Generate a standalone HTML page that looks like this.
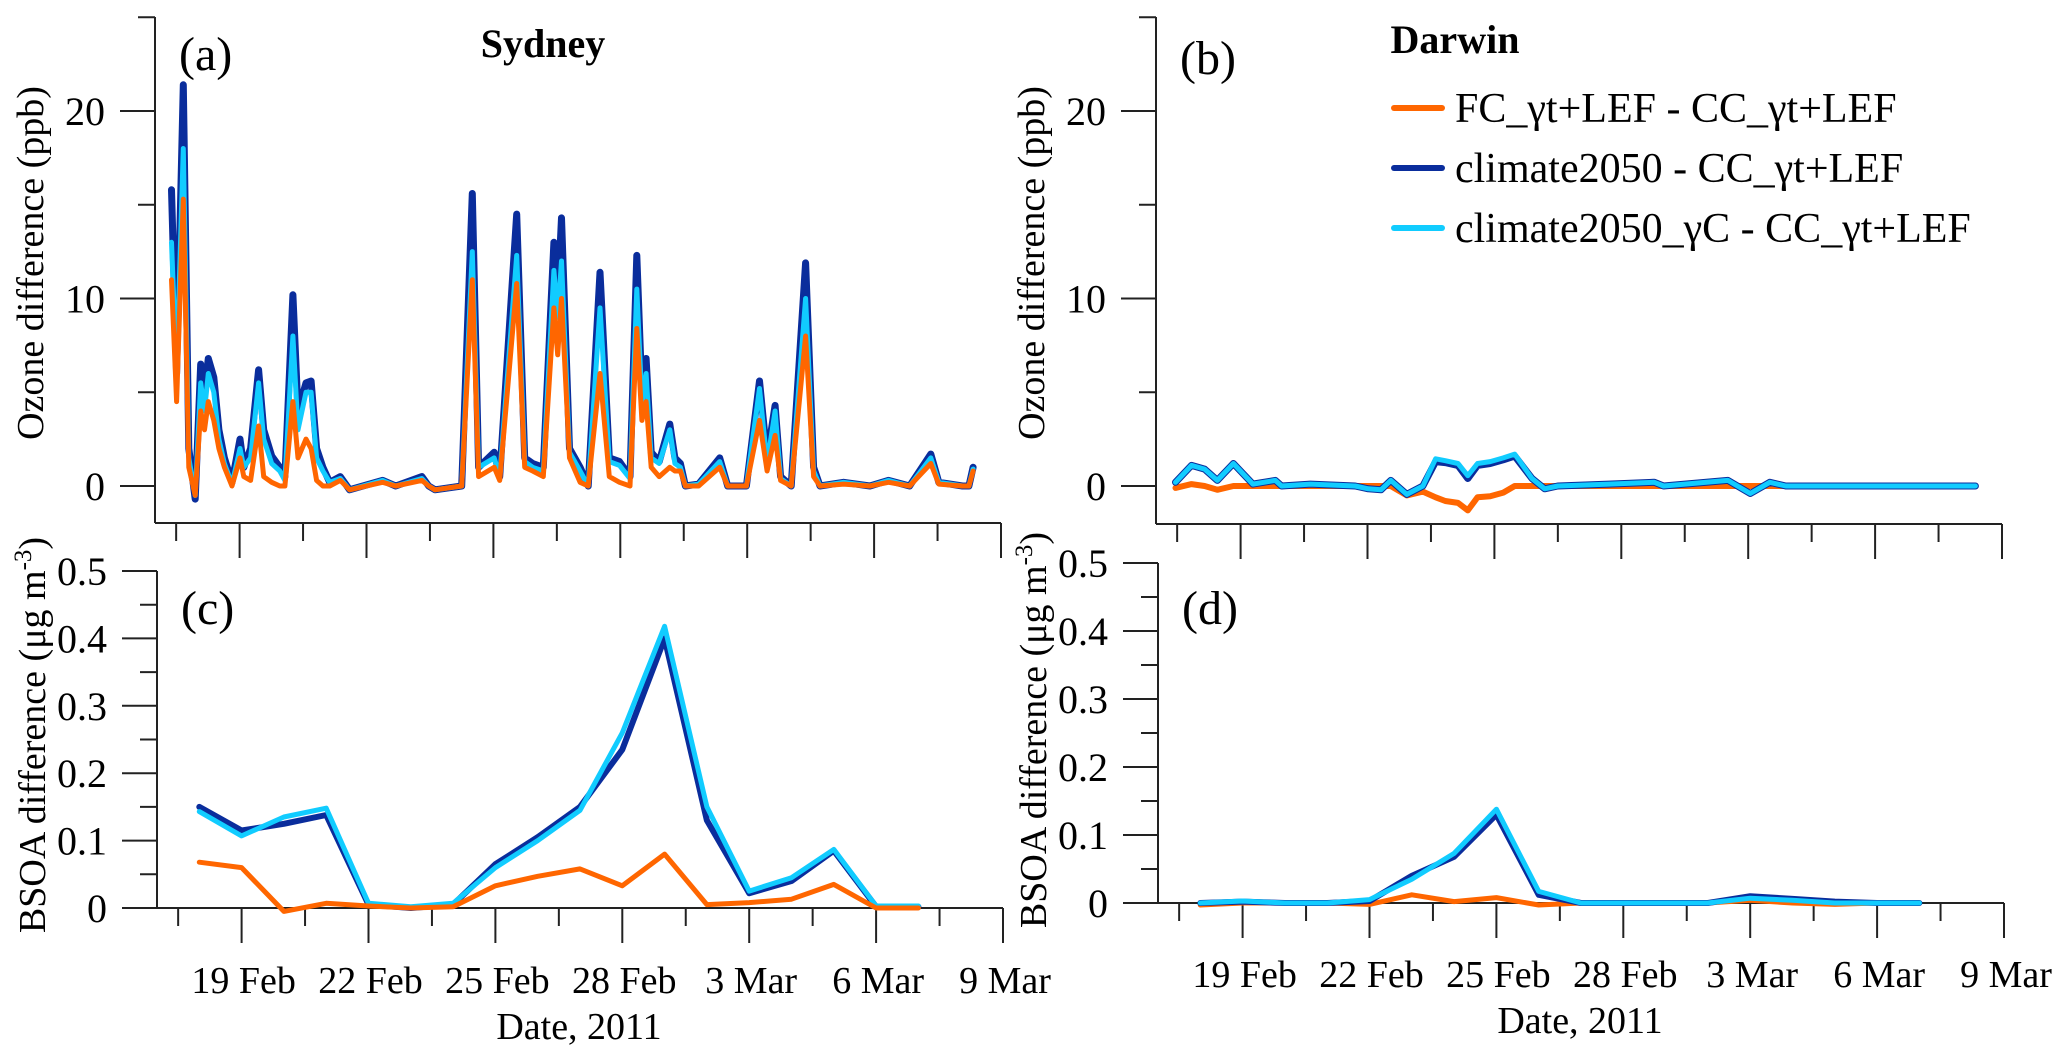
<!DOCTYPE html>
<html><head><meta charset="utf-8"><style>
html,body{margin:0;padding:0;background:#fff;}
svg{display:block;}
text{font-family:"Liberation Serif","Times New Roman",serif;}
</style></head><body>
<svg id="chart" width="2067" height="1059" viewBox="0 0 2067 1059" xmlns="http://www.w3.org/2000/svg"></svg>
<script>
// ---- Data ----
var dateTicks = ["19 Feb","22 Feb","25 Feb","28 Feb","3 Mar","6 Mar","9 Mar"];
var sydT = [0.39,0.51,0.67,0.80,0.95,1.08,1.17,1.26,1.39,1.51,1.64,1.82,2.01,2.10,2.26,2.45,2.57,2.76,2.95,3.07,3.26,3.38,3.57,3.69,3.82,3.97,4.13,4.38,4.60,5.38,5.69,6.31,6.47,6.62,7.25,7.50,7.65,8.02,8.15,8.55,8.74,8.93,9.18,9.43,9.52,9.61,9.80,10.05,10.24,10.52,10.74,10.98,11.23,11.39,11.51,11.61,11.73,11.92,12.17,12.29,12.42,12.54,12.85,13.35,13.54,13.98,14.29,14.47,14.66,14.79,15.04,15.38,15.57,15.72,16.28,16.90,17.34,17.84,18.34,18.53,19.09,19.24,19.34];
var sydDark = [15.8,6,21.4,2,-0.7,6.5,5,6.8,5.8,3,1.5,0.2,2.5,1,2,6.2,3,1.6,1,0.5,10.2,4,5.5,5.6,2,1,0.2,0.5,-0.2,0.3,0,0.5,0,-0.2,0,15.6,1,1.8,0.5,14.5,1.5,1.2,1,13,10,14.3,2,1,0,11.4,1.5,1.3,0.5,12.3,5,6.8,1.8,1.3,3.3,1.5,1.2,0,0.1,1.5,0,0,5.6,1.5,4.3,0.5,0,11.9,1,0,0.2,0,0.3,0,1.7,0.2,0,0,1];
var sydCyan = [13,6,18,1.5,-0.5,5.5,4,6,5,2.5,1.2,0.1,2,1,1.5,5.5,2.5,1.2,0.8,0.3,8,3,5,5,1.5,0.8,0.2,0.4,-0.2,0.3,0,0.4,0,-0.2,0,12.5,1,1.5,0.5,12.3,1.3,1,0.8,11.5,9,12,1.8,0.8,0,9.5,1.3,1.1,0.4,10.5,4.5,6,1.5,1.2,3,1.2,1,0,0.1,1.3,0,0,5.2,1.2,4,0.4,0,10,0.8,0,0.2,0,0.3,0,1.5,0.2,0,0,0.9];
var sydOrange = [11,4.5,15.3,1,-0.5,4,3,4.5,3.5,2,1,0,1.5,0.5,0.3,3.2,0.5,0.2,0,0,4.5,1.5,2.5,2,0.3,0,0,0.3,-0.2,0.2,0,0.3,0,-0.2,0,11,0.5,1,0.3,10.8,1,0.8,0.5,9.5,7,10,1.5,0.2,0,6,0.5,0.2,0,8.4,3.5,4.5,1,0.5,1,0.8,0.8,0,0,1,0,0,3.5,0.8,2.7,0.3,0,8,0.5,0,0.1,0,0.2,0,1.2,0.1,0,0,0.8];
var darT = [0.46,0.84,1.15,1.45,1.83,2.29,2.82,2.97,3.65,4.71,5.02,5.32,5.55,5.93,6.31,6.61,6.84,7.14,7.37,7.60,7.90,8.21,8.48,8.89,9.19,9.50,10.71,11.78,12.0,13.52,14.05,14.51,14.89,19.37];
var darCyan = [0.2,1.1,0.9,0.3,1.2,0.1,0.3,0,0.1,0,-0.15,-0.2,0.3,-0.45,0,1.45,1.35,1.2,0.55,1.2,1.3,1.5,1.7,0.4,-0.15,0,0.1,0.2,0,0.3,-0.4,0.2,0,0];
var darDark = [0.2,1.1,0.9,0.3,1.2,0.1,0.3,0,0.1,0,-0.15,-0.2,0.3,-0.45,0,1.3,1.25,1.1,0.4,1.1,1.2,1.4,1.6,0.4,-0.15,0,0.1,0.2,0,0.3,-0.4,0.2,0,0];
var darOrange = [-0.1,0.1,0,-0.2,0,0,0,0,0,0,0,0,0,-0.5,-0.3,-0.6,-0.8,-0.9,-1.3,-0.6,-0.55,-0.35,0,0,0,0,0,0,0,0,0,0,0,0];
var bsoaDays = [1,2,3,4,5,6,7,8,9,10,11,12,13,14,15,16,17,18];
var sydBsoaDark = [0.15,0.115,0.125,0.138,0.005,0,0.005,0.065,0.105,0.15,0.235,0.40,0.13,0.022,0.04,0.085,0.002,0.002];
var sydBsoaCyan = [0.143,0.107,0.135,0.148,0.007,0.002,0.007,0.06,0.1,0.145,0.26,0.418,0.15,0.025,0.045,0.087,0.003,0.003];
var sydBsoaOrange = [0.068,0.06,-0.005,0.007,0.003,0,0.002,0.033,0.047,0.058,0.033,0.08,0.005,0.008,0.013,0.035,0,0];
var darBsoaDark = [0,0.002,0,0,0.003,0.04,0.068,0.13,0.012,0,0,0,0,0.01,0.006,0.002,0,0];
var darBsoaCyan = [0,0.003,0,0,0.005,0.035,0.073,0.138,0.017,0,0,0,0,0.007,0.004,0,0,0];
var darBsoaOrange = [-0.003,0,0,0,-0.002,0.012,0.002,0.008,-0.003,0,0,0,0,0.004,0,-0.002,0,0];
var ozoneTicks = [0,10,20];
var bsoaTicks = [0,0.1,0.2,0.3,0.4,0.5];

var NS = "http://www.w3.org/2000/svg";
var svg = document.getElementById("chart");
var C_OR = "#ff6600", C_DK = "#0a2d9c", C_CY = "#11ccff";
var FONT = '"Liberation Serif","Times New Roman",serif';
function mk(tag, parent) { var e = document.createElementNS(NS, tag); parent.appendChild(e); return e; }
function line(p, x1, y1, x2, y2, w) {
  var l = mk("line", p);
  l.setAttribute("x1", x1); l.setAttribute("y1", y1); l.setAttribute("x2", x2); l.setAttribute("y2", y2);
  l.setAttribute("stroke", "#222"); l.setAttribute("stroke-width", w || 2);
  return l;
}
function txt(p, x, y, s, size, anchor, weight) {
  var t = mk("text", p);
  t.setAttribute("x", x); t.setAttribute("y", y); t.setAttribute("font-size", size);
  t.setAttribute("font-family", FONT);
  t.setAttribute("text-anchor", anchor || "middle"); if (weight) t.setAttribute("font-weight", weight);
  t.textContent = s; return t;
}

function panel(cfg) {
  var g = mk("g", svg);
  
  
  var X = function (d) { return cfg.x0 + d * 42.3; };
  var Y = function (v) { return cfg.y0 - v * cfg.ys; };
  var ya = line(g, cfg.x0, cfg.yTop, cfg.x0, cfg.yBot, 2);
  
  
  var xa = line(g, cfg.x0, cfg.yBot, X(20), cfg.yBot, 2);
  
  
  cfg.ticks.forEach(function (v) {
    var tk = line(g, cfg.x0 - 35, Y(v), cfg.x0, Y(v), 2);
    
    
    var lb = txt(g, cfg.x0 - 50, Y(v) + 14, cfg.fmt(v), 40, "end");
    
    
    var mv = v + cfg.minorStep;
    if (Y(mv) >= cfg.yTop - 1) {
      var mt = line(g, cfg.x0 - 17, Y(mv), cfg.x0, Y(mv), 2);
      
      
    }
  });
  for (var d = 0.5; d < 20; d += 3) {
    var m = line(g, X(d), cfg.yBot, X(d), cfg.yBot + 18, 2);
    
    
  }
  for (var k = 0; k < dateTicks.length; k++) {
    var dd = 2 + 3 * k;
    var M = line(g, X(dd), cfg.yBot, X(dd), cfg.yBot + 35, 2);
    
    
    if (cfg.dateLabels) {
      var tl = txt(g, X(dd) + 2, cfg.labelY, dateTicks[k], 38, "middle");
      
      
    }
  }
  if (cfg.dateLabels) {
    var xt = txt(g, X(10) - 1, cfg.labelY + 46, "Date, 2011", 38, "middle");
    
    
  }
  var yt = txt(g, 0, 0, "", 38, "middle");
  yt.setAttribute("transform", "translate(" + (cfg.x0 - 112) + "," + cfg.titleY + ") rotate(-90)");
  if (cfg.bsoa) {
    yt.appendChild(document.createTextNode("BSOA difference (μg m"));
    var sp = mk("tspan", yt); sp.setAttribute("dy", "-14"); sp.setAttribute("font-size", "25"); sp.textContent = "-3";
    var sp2 = mk("tspan", yt); sp2.setAttribute("dy", "14"); sp2.textContent = ")";
  } else { yt.textContent = "Ozone difference (ppb)"; }
  
  
  var pl = txt(g, cfg.x0 + 24, cfg.letterY, cfg.letter, 48, "start");
  
  
  cfg.series.forEach(function (s) {
    var pts = s.v.map(function (v, i) { return X(s.t[i]).toFixed(1) + "," + Y(v).toFixed(1); }).join(" ");
    var pl2 = mk("polyline", g);
    pl2.setAttribute("points", pts); pl2.setAttribute("fill", "none");
    pl2.setAttribute("stroke", s.c); pl2.setAttribute("stroke-width", s.w);
    pl2.setAttribute("stroke-linejoin", "round"); pl2.setAttribute("stroke-linecap", "round");
    
    
  });
}
var fO = function (v) { return String(v); };
var fB = function (v) { return v === 0 ? "0" : v.toFixed(1); };

panel({name:"panel-a-sydney-ozone", x0:155, y0:486, ys:18.75, yTop:17, yBot:523, ticks:ozoneTicks, minorStep:5, fmt:fO,
  titleY:263, letter:"(a)", letterY:70, dateLabels:false, bsoa:false,
  series:[{name:"climate2050-line",t:sydT,v:sydDark,c:C_DK,w:7},{name:"climate2050-gammaC-line",t:sydT,v:sydCyan,c:C_CY,w:5},{name:"fc-line",t:sydT,v:sydOrange,c:C_OR,w:5}]});
panel({name:"panel-b-darwin-ozone", x0:1156, y0:486, ys:18.75, yTop:17, yBot:524, ticks:ozoneTicks, minorStep:5, fmt:fO,
  titleY:263, letter:"(b)", letterY:74, dateLabels:false, bsoa:false,
  series:[{name:"fc-line",t:darT,v:darOrange,c:C_OR,w:6},{name:"climate2050-line",t:darT,v:darDark,c:C_DK,w:7},{name:"climate2050-gammaC-line",t:darT,v:darCyan,c:C_CY,w:5}]});
panel({name:"panel-c-sydney-bsoa", x0:157, y0:908, ys:674, yTop:571, yBot:908, ticks:bsoaTicks, minorStep:0.05, fmt:fB,
  titleY:735, letter:"(c)", letterY:624, dateLabels:true, labelY:993, bsoa:true,
  series:[{name:"climate2050-line",t:bsoaDays,v:sydBsoaDark,c:C_DK,w:6},{name:"climate2050-gammaC-line",t:bsoaDays,v:sydBsoaCyan,c:C_CY,w:5},{name:"fc-line",t:bsoaDays,v:sydBsoaOrange,c:C_OR,w:5}]});
panel({name:"panel-d-darwin-bsoa", x0:1158, y0:903, ys:680, yTop:563, yBot:903, ticks:bsoaTicks, minorStep:0.05, fmt:fB,
  titleY:730, letter:"(d)", letterY:624, dateLabels:true, labelY:987, bsoa:true,
  series:[{name:"fc-line",t:bsoaDays,v:darBsoaOrange,c:C_OR,w:5},{name:"climate2050-line",t:bsoaDays,v:darBsoaDark,c:C_DK,w:6},{name:"climate2050-gammaC-line",t:bsoaDays,v:darBsoaCyan,c:C_CY,w:5}]});

var t1 = txt(svg, 543, 57, "Sydney", 40, "middle", "bold");


var t2 = txt(svg, 1455, 53, "Darwin", 40, "middle", "bold");



var leg = mk("g", svg);


var legNames = ["FC_γt+LEF - CC_γt+LEF", "climate2050 - CC_γt+LEF", "climate2050_γC - CC_γt+LEF"];
var legColors = [C_OR, C_DK, C_CY];
var legY = [108, 168, 228];
for (var i = 0; i < 3; i++) {
  var ll = mk("line", leg);
  ll.setAttribute("x1", 1394); ll.setAttribute("x2", 1442); ll.setAttribute("y1", legY[i]); ll.setAttribute("y2", legY[i]);
  ll.setAttribute("stroke", legColors[i]); ll.setAttribute("stroke-width", 6); ll.setAttribute("stroke-linecap", "round");
  
  
  var lt = txt(leg, 1455, legY[i] + 14, legNames[i], 42, "start");
  
  
}
</script>
</body></html>
